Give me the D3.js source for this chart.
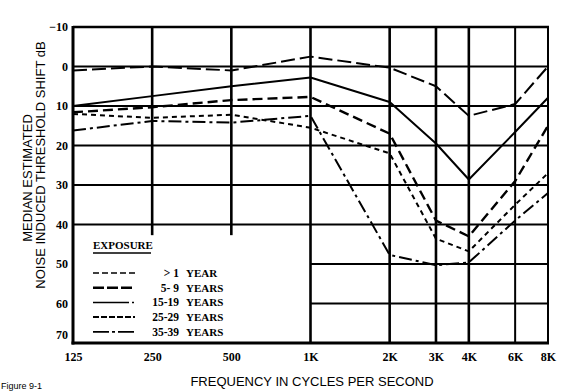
<!DOCTYPE html>
<html>
<head>
<meta charset="utf-8">
<script src="https://cdn.jsdelivr.net/npm/d3@7"></script>
<style>
  html, body { margin: 0; padding: 0; background: #fff; }
  svg { display: block; }
</style>
</head>
<body>
<svg id="chart" width="576" height="392"></svg>
<script>
// ---- data ----
const frequencies = [125, 250, 500, 1000, 2000, 3000, 4000, 6000, 8000];
const freqLabels = ["125", "250", "500", "1K", "2K", "3K", "4K", "6K", "8K"];
const dbTicks = [-10, 0, 10, 20, 30, 40, 50, 60, 70];
const dbTickLabels = ["\u221210", "0", "10", "20", "30", "40", "50", "60", "70"];

const seriesA = [1, 0, 1, -2.5, 0.3, 5, 12.5, 9.5, 0];
const seriesB = [10, 7.5, 5, 2.8, 9, 19.5, 28.6, 16.6, 7.9];
const seriesC = [11.6, 10.3, 8.5, 7.7, 17, 39, 43, 29, 15];
const seriesD = [12, 13, 12.2, 15.5, 22, 43.6, 46.8, 35, 27];
const seriesE = [16.2, 13.8, 14.2, 12.5, 47.7, 50.3, 49.6, 39, 32];

const legendNumbers = ["> 1", "5- 9", "15-19", "25-29", "35-39"];
const legendUnits = ["YEAR", "YEARS", "YEARS", "YEARS", "YEARS"];

// ---- styles (not data) ----
const seriesList = [
  { values: seriesA, dash: "14,5", width: 2 },
  { values: seriesB, dash: null, width: 2 },
  { values: seriesC, dash: "10,5", width: 2.4 },
  { values: seriesD, dash: "5,4", width: 2 },
  { values: seriesE, dash: "13,4,3,4", width: 2 }
];
const legendStyles = [
  { dash: "6,3", width: 1.4 },
  { dash: "11,3", width: 2.4 },
  { dash: "36,3,2,40", width: 1.5 },
  { dash: "6,2", width: 2 },
  { dash: "16,3,3,3", width: 1.8 }
];

const svg = d3.select("#chart");
const x = d3.scaleLog().domain([125, 8000]).range([73, 548]);
const y = d3.scaleLinear().domain([-10, 70]).range([27, 343]);

const serif = "'Liberation Serif', 'DejaVu Serif', serif";
const sans = "'Liberation Sans', Arial, sans-serif";

// ---- grid ----
const grid = svg.append("g").attr("stroke", "#000").attr("fill", "none");
dbTicks.filter(d => d > -10 && d < 70).forEach(d => {
  const x0 = (d === 50 || d === 60) ? x(1000) : x(125);
  grid.append("line")
    .attr("x1", x0).attr("x2", x(8000))
    .attr("y1", y(d)).attr("y2", y(d))
    .attr("stroke-width", 2);
});
frequencies.filter(f => f > 125 && f < 8000).forEach(f => {
  const yEnd = (f === 250 || f === 500) ? y(42.7) : y(70);
  grid.append("line")
    .attr("x1", x(f)).attr("x2", x(f))
    .attr("y1", y(-10)).attr("y2", yEnd)
    .attr("stroke-width", (f === 6000) ? 2 : 2.6);
});
grid.append("line").attr("x1", x(125)).attr("x2", x(125)).attr("y1", y(-10) - 1).attr("y2", y(70) + 1.5).attr("stroke-width", 3);
grid.append("line").attr("x1", x(125)).attr("x2", x(8000) + 1).attr("y1", y(-10)).attr("y2", y(-10)).attr("stroke-width", 2.6);
grid.append("line").attr("x1", x(8000)).attr("x2", x(8000)).attr("y1", y(-10)).attr("y2", y(70)).attr("stroke-width", 2);
grid.append("line").attr("x1", x(125) - 1.5).attr("x2", x(8000) + 1).attr("y1", y(70)).attr("y2", y(70)).attr("stroke-width", 3);

// ---- axes labels via d3 axes ----
const yAxis = d3.axisLeft(y).tickValues(dbTicks).tickSize(0).tickPadding(5)
  .tickFormat((d, i) => dbTickLabels[i]);
const gy = svg.append("g").attr("transform", `translate(${x(125)},0)`).call(yAxis);
gy.select(".domain").remove();
gy.selectAll("text").attr("font-family", serif).attr("font-weight", "bold")
  .attr("font-size", 12).attr("fill", "#000")
  .attr("dy", (d) => d === 70 ? "-0.35em" : "0.32em");

const xAxis = d3.axisBottom(x).tickValues(frequencies).tickSize(0).tickPadding(9)
  .tickFormat((d, i) => freqLabels[i]);
const gx = svg.append("g").attr("transform", `translate(0,${y(70)})`).call(xAxis);
gx.select(".domain").remove();
gx.selectAll("text").attr("font-family", serif).attr("font-weight", "bold")
  .attr("font-size", 12).attr("fill", "#000");

// ---- data lines ----
const line = d3.line()
  .x((d, i) => x(frequencies[i]))
  .y(d => y(d));
svg.append("g").selectAll("path").data(seriesList).join("path")
  .attr("d", s => line(s.values))
  .attr("fill", "none")
  .attr("stroke", "#000")
  .attr("stroke-width", s => s.width)
  .attr("stroke-dasharray", s => s.dash)
  .attr("stroke-linejoin", "round");

// ---- legend ----
const lg = svg.append("g");
lg.append("text").attr("x", 93).attr("y", 249)
  .attr("font-family", serif).attr("font-weight", "bold").attr("font-size", 11)
  .text("EXPOSURE");
lg.append("line").attr("x1", 93).attr("x2", 151).attr("y1", 253).attr("y2", 253)
  .attr("stroke", "#000").attr("stroke-width", 1.4);
legendNumbers.forEach((n, i) => {
  const cy = 273 + i * 14.7;
  const st = legendStyles[i];
  lg.append("line").attr("x1", 93).attr("x2", 135).attr("y1", cy).attr("y2", cy)
    .attr("stroke", "#000").attr("stroke-width", st.width)
    .attr("stroke-dasharray", st.dash);
  lg.append("text").attr("x", 179).attr("y", cy + 4)
    .attr("text-anchor", "end")
    .attr("font-family", serif).attr("font-weight", "bold").attr("font-size", 11.5)
    .text(n);
  lg.append("text").attr("x", 186).attr("y", cy + 4)
    .attr("font-family", serif).attr("font-weight", "bold").attr("font-size", 11)
    .text(legendUnits[i]);
});

// ---- titles ----
svg.append("text").attr("x", 312).attr("y", 386).attr("text-anchor", "middle")
  .attr("font-family", sans).attr("font-size", 13).text("FREQUENCY IN CYCLES PER SECOND");
svg.append("text").attr("transform", "translate(32,178) rotate(-90)").attr("text-anchor", "middle")
  .attr("font-family", sans).attr("font-size", 13).text("MEDIAN ESTIMATED");
svg.append("text").attr("transform", "translate(45,165) rotate(-90)").attr("text-anchor", "middle")
  .attr("font-family", sans).attr("font-size", 13).text("NOISE INDUCED THRESHOLD SHIFT dB");
svg.append("text").attr("x", 1).attr("y", 389)
  .attr("font-family", sans).attr("font-size", 9).text("Figure 9-1");
</script>
</body>
</html>
